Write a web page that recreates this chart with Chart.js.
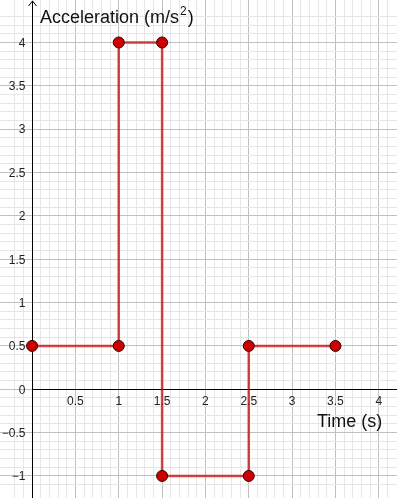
<!DOCTYPE html>
<html>
<head>
<meta charset="utf-8">
<script src="https://cdn.jsdelivr.net/npm/chart.js@4"></script>
<style>
  body { margin: 0; background: #fff; }
  #wrap { width: 397px; height: 498px; }
</style>
</head>
<body>
<div id="wrap"><canvas id="myChart" width="397" height="498"></canvas></div>
<script>
// step graph: time (s) vs acceleration (m/s^2)
const times = [0, 1, 1, 1.5, 1.5, 2.5, 2.5, 3.5];
const accel = [0.5, 0.5, 4, 4, -1, -1, 0.5, 0.5];

const xTickLabels = [0.5, 1, 1.5, 2, 2.5, 3, 3.5, 4];
const yTickLabels = [-1, -0.5, 0, 0.5, 1, 1.5, 2, 2.5, 3, 3.5, 4];

const points = times.map((t, i) => ({ x: t, y: accel[i] }));

function gridColor(c) {
  const v = c.tick.value;
  if (Math.abs(v * 2 - Math.round(v * 2)) < 1e-6) return '#c0c0c0';
  if (Math.abs(v * 10 - Math.round(v * 10)) < 1e-6) return '#e6e6e6';
  return 'rgba(0,0,0,0)';
}

const fmt = v => (v < 0 ? '\u2212' + Math.abs(v) : String(v));

const axesPlugin = {
  id: 'axes',
  beforeDatasetsDraw(chart) {
    const ctx = chart.ctx;
    const xs = chart.scales.x, ys = chart.scales.y;
    const x0 = Math.round(xs.getPixelForValue(0)) + 0.5;
    const y0 = Math.round(ys.getPixelForValue(0)) + 0.5;
    ctx.save();
    ctx.strokeStyle = '#000';
    ctx.lineWidth = 1;
    ctx.beginPath();
    ctx.moveTo(x0, 1);
    ctx.lineTo(x0, chart.height);
    ctx.moveTo(x0, y0);
    ctx.lineTo(chart.width, y0);
    // arrow on y axis
    ctx.moveTo(x0 - 4, 6);
    ctx.lineTo(x0, 1);
    ctx.lineTo(x0 + 4, 6);
    ctx.stroke();

    ctx.fillStyle = '#222';
    ctx.font = '12px "Liberation Sans", Arial, sans-serif';
    ctx.textAlign = 'right';
    ctx.textBaseline = 'middle';
    yTickLabels.forEach(v => {
      ctx.fillText(fmt(v), x0 - 7, ys.getPixelForValue(v) + 1);
    });
    ctx.textAlign = 'center';
    ctx.textBaseline = 'top';
    xTickLabels.forEach(v => {
      ctx.fillText(fmt(v), xs.getPixelForValue(v), y0 + 6);
    });

    ctx.fillStyle = '#111';
    ctx.font = '18px "Liberation Sans", Arial, sans-serif';
    ctx.textAlign = 'left';
    ctx.textBaseline = 'alphabetic';
    const t1 = 'Acceleration (m/s';
    ctx.fillText(t1, 40, 23);
    let w = ctx.measureText(t1).width;
    ctx.font = '12px "Liberation Sans", Arial, sans-serif';
    ctx.fillText('2', 40 + w + 1, 15);
    const w2 = ctx.measureText('2').width;
    ctx.font = '18px "Liberation Sans", Arial, sans-serif';
    ctx.fillText(')', 40 + w + w2 + 2, 23);
    ctx.fillText('Time (s)', 317, 427);
    ctx.restore();
  }
};

new Chart(document.getElementById('myChart'), {
  type: 'scatter',
  data: {
    datasets: [{
      data: points,
      showLine: true,
      borderColor: 'rgba(204,0,0,0.72)',
      borderWidth: 2.5,
      pointRadius: 5.5,
      pointBackgroundColor: '#cc0000',
      pointBorderColor: '#330000',
      pointBorderWidth: 1,
      tension: 0
    }]
  },
  options: {
    responsive: false,
    animation: false,
    layout: { padding: 0, autoPadding: false },
    plugins: { legend: { display: false }, tooltip: { enabled: false } },
    scales: {
      x: {
        type: 'linear',
        min: -0.37,
        max: 4.21,
        border: { display: false },
        ticks: { display: false, stepSize: 0.1, autoSkip: false, padding: 0 },
        grid: { color: gridColor, lineWidth: 1, drawTicks: false }
      },
      y: {
        type: 'linear',
        min: -1.254,
        max: 4.49,
        border: { display: false },
        ticks: { display: false, stepSize: 0.1, autoSkip: false, padding: 0 },
        grid: { color: gridColor, lineWidth: 1, drawTicks: false }
      }
    }
  },
  plugins: [axesPlugin]
});
</script>
</body>
</html>
